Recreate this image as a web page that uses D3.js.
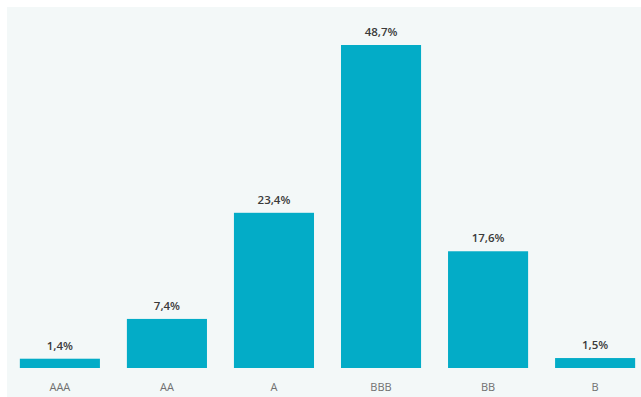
<!DOCTYPE html>
<html>
<head>
<meta charset="utf-8">
<script src="https://cdn.jsdelivr.net/npm/d3@7"></script>
<style>
  body { margin: 0; background: #fff; }
  svg { display: block; }
</style>
</head>
<body>
<svg id="chart" width="641" height="397"></svg>
<script>
var ratings = ["AAA", "AA", "A", "BBB", "BB", "B"];
var shares = [1.4, 7.4, 23.4, 48.7, 17.6, 1.5];

var svg = d3.select("#chart");
var width = 641, height = 397;

// light panel behind the bars
svg.append("rect")
  .attr("x", 7).attr("y", 7)
  .attr("width", width - 7).attr("height", height - 7)
  .attr("fill", "#f3f8f8");

var x = d3.scaleBand()
  .domain(ratings)
  .range([7, 648])
  .paddingInner(0.252)
  .paddingOuter(0.12);

var y = d3.scaleLinear()
  .domain([0, 48.7])
  .range([368, 45]);

var data = ratings.map(function(r, i) { return { name: r, value: shares[i] }; });

svg.selectAll("rect.bar")
  .data(data)
  .enter()
  .append("rect")
  .attr("class", "bar")
  .attr("x", function(d) { return x(d.name); })
  .attr("y", function(d) { return y(d.value); })
  .attr("width", x.bandwidth())
  .attr("height", function(d) { return y(0) - y(d.value); })
  .attr("fill", "#03acc7");

svg.selectAll("text.value")
  .data(data)
  .enter()
  .append("text")
  .attr("class", "value")
  .attr("x", function(d) { return x(d.name) + x.bandwidth() / 2; })
  .attr("y", function(d) { return y(d.value) - 9; })
  .attr("text-anchor", "middle")
  .style("font-family", "'Open Sans', sans-serif")
  .style("font-size", "11.5px")
  .style("font-weight", "600")
  .style("fill", "#3a3a3a")
  .text(function(d) { return d.value.toFixed(1).replace(".", ",") + "%"; });

var xAxis = d3.axisBottom(x).tickSize(0).tickPadding(15);
var gx = svg.append("g")
  .attr("transform", "translate(0," + 368 + ")")
  .call(xAxis);
gx.select(".domain").remove();
gx.selectAll("text")
  .style("font-family", "'Open Sans', sans-serif")
  .style("font-size", "11px")
  .style("fill", "#707070");
</script>
</body>
</html>
